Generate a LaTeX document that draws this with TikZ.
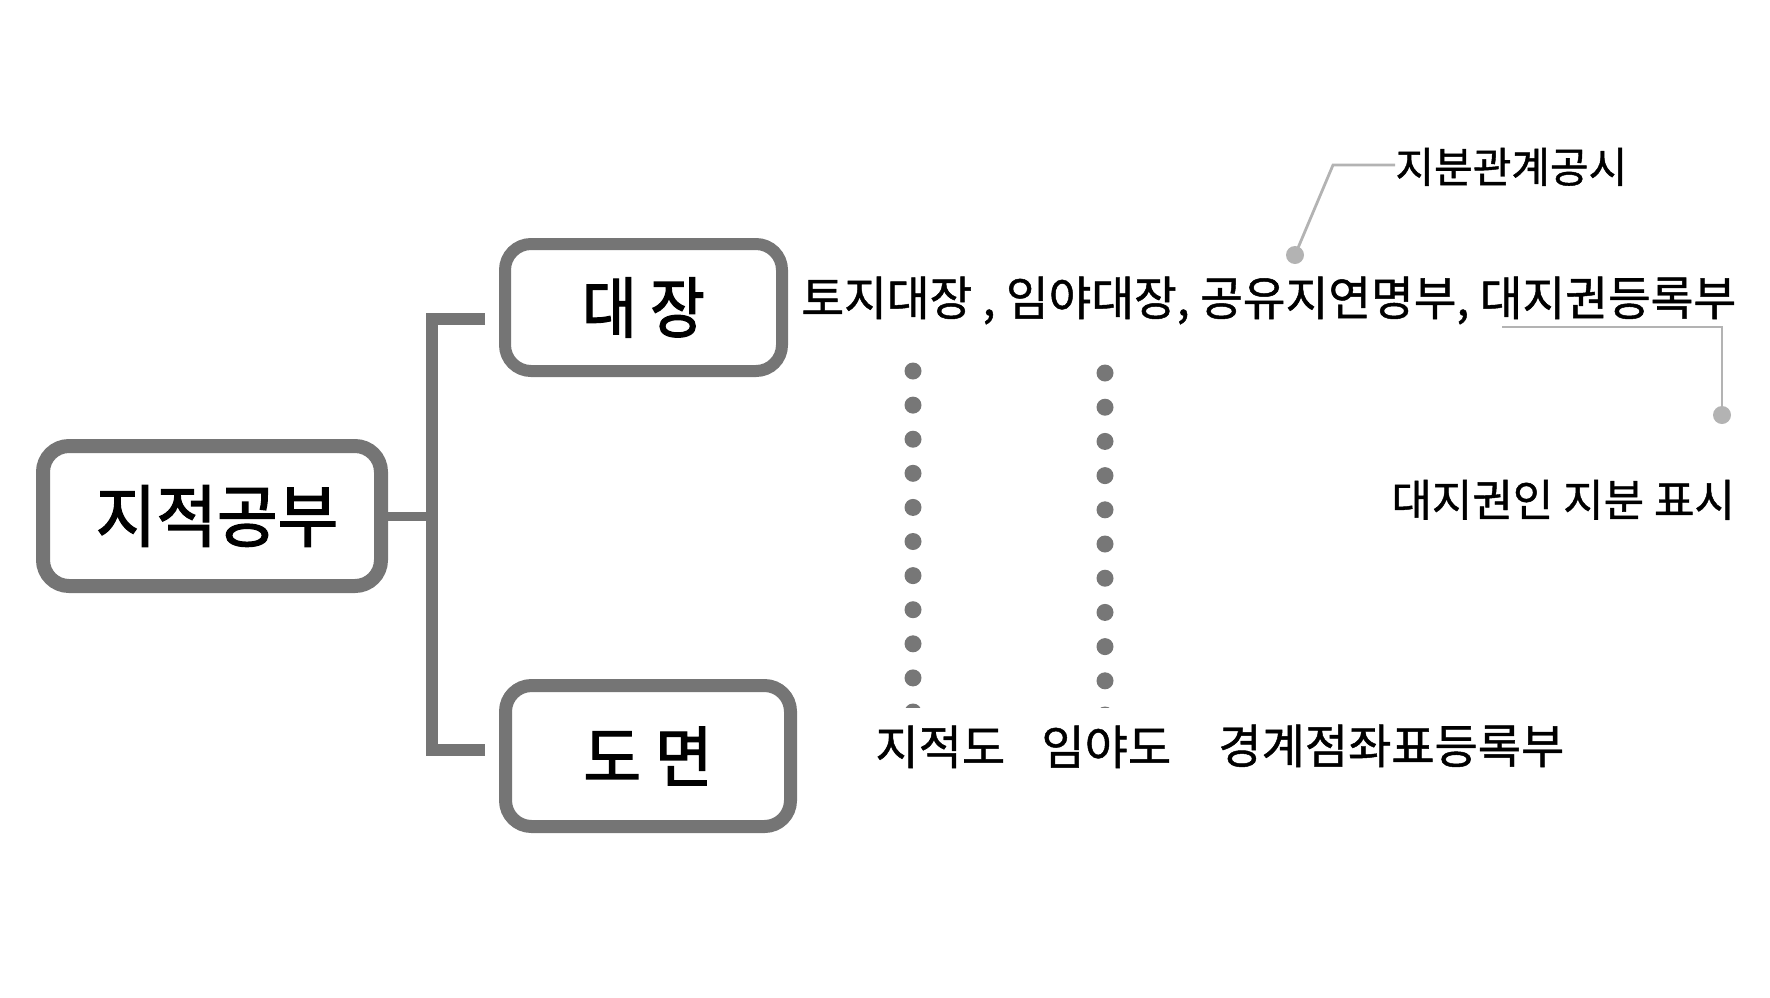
\documentclass[tikz,border=0pt]{standalone}
\usepackage{fontspec}
\setmainfont{Noto Sans CJK KR}[FakeBold=1]
\newfontfamily\krmain{Noto Sans CJK KR}[FakeStretch=0.988,FakeBold=1]
\newfontfamily\krroot{Noto Sans CJK KR}[FakeStretch=0.97,FakeBold=2]
\newfontfamily\krdz{Noto Sans CJK KR}[FakeStretch=0.9,FakeBold=2]
\newfontfamily\krdm{Noto Sans CJK KR}[FakeStretch=0.95,FakeBold=2]
\definecolor{boxgray}{HTML}{757575}
\definecolor{dotgray}{HTML}{777777}
\definecolor{callgray}{HTML}{B3B3B3}
\tikzset{
  box/.style={draw=boxgray, fill=white, rounded corners=13pt, inner sep=0pt},
  bracketline/.style={draw=boxgray, line width=6pt, line join=miter},
  stubline/.style={draw=boxgray, line width=4.5pt},
  callline/.style={draw=callgray, line width=1.4pt},
  calldot/.style={fill=callgray},
  lblA/.style={inner sep=0pt, anchor=west, font=\fontsize{23.5}{28}\selectfont, text height=19pt, text depth=1.6pt},
  lblB/.style={inner sep=0pt, anchor=west, font=\fontsize{21}{25}\selectfont, text height=17pt, text depth=1.4pt},
  lblC/.style={inner sep=0pt, anchor=west, font=\fontsize{22}{26}\selectfont, text height=17.8pt, text depth=1.5pt},
}
\begin{document}
\begin{tikzpicture}[x=0.5pt,y=-0.5pt]
\useasboundingbox (0,0) rectangle (1770,997);
% boxes
\node[box, line width=7pt, minimum width=169pt, minimum height=70pt, font=\krroot\fontsize{34}{40}\selectfont] (root) at (212,516) {\hspace*{5pt}지적공부};
\node[box, line width=6pt, minimum width=138.5pt, minimum height=63.5pt, font=\krdz\fontsize{33}{40}\selectfont] (dz) at (643.5,307.5) {대 장};
\node[box, line width=6.5pt, minimum width=142.5pt, minimum height=70.5pt, font=\krdm\fontsize{33}{40}\selectfont] (dm) at (648,756) {도 면};
% bracket
\coordinate (bt) at (485,319);
\coordinate (bb) at (485,750);
\coordinate (bm) at (432,514);
\draw[bracketline] (bt) -| (bm) |- (bb);
\draw[stubline] (root.east) -- (root.east -| bm);
% dotted columns
\begin{scope}
\clip (0,0) rectangle (1770,707);
\foreach \i in {0,...,10} {
  \fill[dotgray] (913,371+34.1*\i) circle (4.25pt);
  \fill[dotgray] (1105,373+34.2*\i) circle (4.25pt);
}
\end{scope}
% main text
\node[lblA, font=\krmain\fontsize{23.5}{28}\selectfont] (main) at (801,298) {토지대장 , 임야대장, 공유지연명부, 대지권등록부};
% bottom texts
\node[lblA] (jjd) at (875,747) {지적도};
\node[lblA] (iyd) at (1041,747) {임야도};
\node[lblA] (ggj) at (1218,746) {경계점좌표등록부};
% callout 1
\node[lblB] (t1) at (1395,167) {지분관계공시};
\coordinate (c1) at (1295,255);
\coordinate (k1) at (1333,165);
\draw[callline] (c1) -- (k1) -- (k1 -| t1.west);
\fill[calldot] (c1) circle (4.5pt);
% callout 2
\node[lblC] (t2) at (1391,500) {대지권인 지분 표시};
\coordinate (u1) at (1502,327);
\coordinate (c2) at (1722,415);
\draw[callline] (u1) -| (c2);
\fill[calldot] (c2) circle (4.5pt);
\end{tikzpicture}
\end{document}
